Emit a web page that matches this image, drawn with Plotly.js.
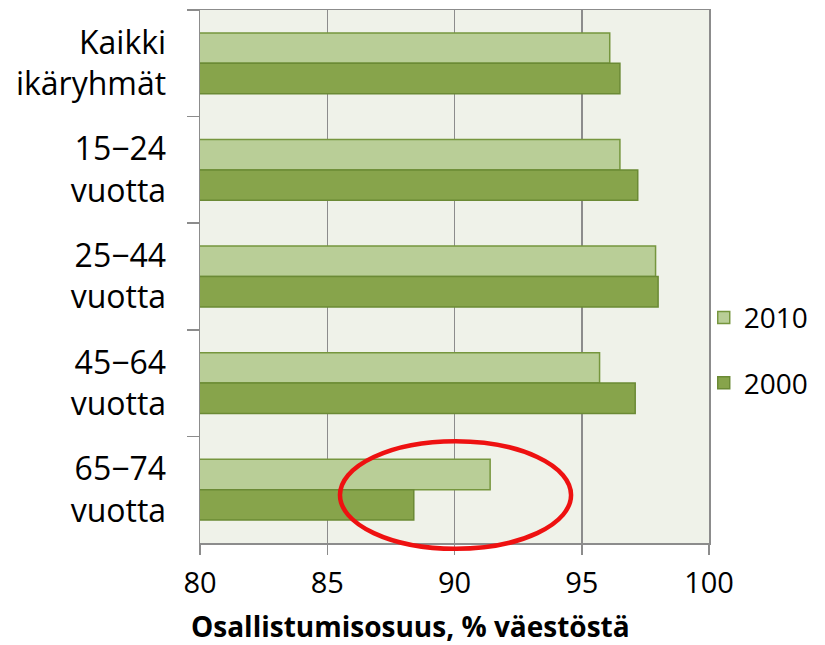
<!DOCTYPE html>
<html>
<head>
<meta charset="utf-8">
<script src="https://cdn.plot.ly/plotly-3.0.1.min.js"></script>
<style>html,body{margin:0;padding:0;background:#fff;}#chart{width:825px;height:645px;}</style>
</head>
<body>
<div id="chart"></div>
<script>
const categories = ["Kaikki<br>ikäryhmät", "15−24<br>vuotta", "25−44<br>vuotta", "45−64<br>vuotta", "65−74<br>vuotta"];
const values2010 = [96.1, 96.5, 97.9, 95.7, 91.4];
const values2000 = [96.5, 97.2, 98.0, 97.1, 88.4];
const xTicks = [80, 85, 90, 95, 100];
const xTitle = "Osallistumisosuus, % väestöstä";
const FONT = "Open Sans, Liberation Sans, sans-serif";

const traces = [
  {type: "bar", orientation: "h", name: "2010", y: categories, x: values2010,
   marker: {color: "#b9ce97", line: {color: "#76963e", width: 1.5}}, legendgroup: "a"},
  {type: "bar", orientation: "h", name: "2000", y: categories, x: values2000,
   marker: {color: "#87a44b", line: {color: "#6b8a35", width: 1.5}}, legendgroup: "b"}
];

const layout = {
  width: 825, height: 645,
  margin: {l: 200, r: 116, t: 10, b: 102, autoexpand: false},
  paper_bgcolor: "#ffffff",
  plot_bgcolor: "#eff2e9",
  barmode: "group",
  bargap: 0.43,
  bargroupgap: 0,
  font: {family: FONT, size: 24, color: "#000"},
  xaxis: {
    range: [80, 100], tickvals: xTicks, ticktext: xTicks.map(String),
    showgrid: true, gridcolor: "#8c8c8c", gridwidth: 1.5,
    showline: true, linecolor: "#8c8c8c", linewidth: 1.5, mirror: true,
    ticks: "outside", ticklen: 10, tickcolor: "#8c8c8c", tickwidth: 1.5,
    tickfont: {size: 29}, zeroline: false, automargin: false, ticklabelstandoff: 4
  },
  yaxis: {
    type: "category", autorange: "reversed", automargin: false,
    tickson: "boundaries", ticks: "outside", ticklen: 12, tickcolor: "#8c8c8c", tickwidth: 1.5,
    showline: true, linecolor: "#8c8c8c", linewidth: 1.5, mirror: true,
    showgrid: false, tickfont: {size: 32}, ticklabelstandoff: 26
  },
  legend: {xref: "container", yref: "container", x: 0.853, xanchor: "left", y: 0.457, yanchor: "middle",
    font: {size: 28}, tracegroupgap: 26, bgcolor: "rgba(0,0,0,0)", itemwidth: 30},
  annotations: [{text: "<b>" + xTitle + "</b>", xref: "paper", yref: "paper",
    x: 0.4145, y: -0.155, xanchor: "center", yanchor: "middle", showarrow: false,
    font: {size: 28, color: "#000"}}],
  shapes: [{type: "circle", xref: "paper", yref: "paper", x0: 0.275, x1: 0.729, y0: -0.011, y1: 0.191,
    line: {color: "#ee1111", width: 4.5}, layer: "above"}]
};

Plotly.newPlot("chart", traces, layout, {displayModeBar: false, staticPlot: true});
</script>
</body>
</html>
